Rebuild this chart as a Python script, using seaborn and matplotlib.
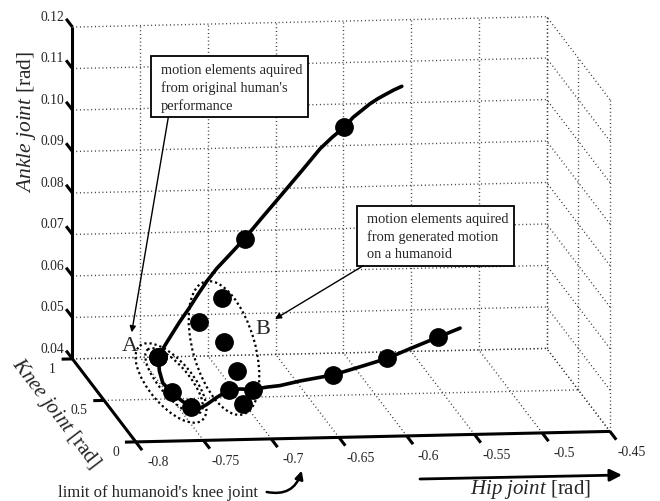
import numpy as np
import matplotlib
matplotlib.use("Agg")
import matplotlib.pyplot as plt
import seaborn as sns
from matplotlib.patches import Ellipse, Rectangle
from mpl_toolkits.mplot3d import proj3d

# joint angles [rad] along the original human's performance
human_hip = [-0.7577, -0.7521, -0.7462, -0.7396, -0.7322, -0.7249, -0.7175, -0.7095,
             -0.7014, -0.6940, -0.6870, -0.6727, -0.6579, -0.6432, -0.6285, -0.6189,
             -0.6091, -0.6020, -0.5946, -0.5880, -0.5814, -0.5743, -0.5682, -0.5618]
human_knee = [0.550, 0.565, 0.580, 0.595, 0.610, 0.625, 0.640, 0.655, 0.670, 0.685, 0.700, 0.715,
              0.730, 0.745, 0.760, 0.775, 0.790, 0.805, 0.820, 0.835, 0.850, 0.865, 0.880, 0.895]
human_ankle = [0.0491, 0.0516, 0.0540, 0.0567, 0.0595, 0.0625, 0.0654, 0.0681,
               0.0703, 0.0723, 0.0742, 0.0791, 0.0841, 0.0891, 0.0942, 0.0966,
               0.0987, 0.1007, 0.1021, 0.1033, 0.1042, 0.1050, 0.1056, 0.1061]
human_marks = [0, 10, 16]

# generated motion on the humanoid
humanoid_hip = [-0.7577, -0.7592, -0.7590, -0.7539, -0.7481, -0.7427, -0.7383, -0.7323,
                -0.7252, -0.7166, -0.7091, -0.6997, -0.6894, -0.6796, -0.6648, -0.6402,
                -0.6205, -0.6003, -0.5836, -0.5631, -0.5466]
humanoid_knee = [0.55, 0.50, 0.45, 0.42, 0.39, 0.36, 0.34, 0.33, 0.32, 0.31, 0.30,
                 0.30, 0.30, 0.30, 0.30, 0.30, 0.30, 0.30, 0.30, 0.30, 0.30]
humanoid_ankle = [0.0491, 0.0468, 0.0449, 0.0432, 0.0418, 0.0408, 0.0406, 0.0419,
                  0.0438, 0.0457, 0.0461, 0.0459, 0.0464, 0.0467, 0.0477, 0.0490,
                  0.0508, 0.0527, 0.0549, 0.0575, 0.0596]
humanoid_marks = [0, 3, 5, 9, 11, 15, 17, 19]

# extra elements of group B
extra_hip = [-0.7133, -0.7298, -0.7137, -0.7064, -0.7114]
extra_knee = [0.50, 0.50, 0.45, 0.40, 0.20]
extra_ankle = [0.0641, 0.0585, 0.0545, 0.0483, 0.0445]

hip_ticks = [-0.8, -0.75, -0.7, -0.65, -0.6, -0.55, -0.5, -0.45]
hip_labels = ["-0.8", "-0.75", "-0.7", "-0.65", "-0.6", "-0.55", "-0.5", "-0.45"]
knee_ticks = [0, 0.5, 1]
knee_labels = ["0", "0.5", "1"]
ankle_ticks = [0.04, 0.05, 0.06, 0.07, 0.08, 0.09, 0.10, 0.11, 0.12]
ankle_labels = ["0.04", "0.05", "0.06", "0.07", "0.08", "0.09", "0.10", "0.11", "0.12"]

sns.set_style("white")
plt.rcParams["font.family"] = ["Liberation Serif", "DejaVu Serif"]
plt.rcParams["mathtext.fontset"] = "custom"
plt.rcParams["mathtext.rm"] = "Liberation Serif"
plt.rcParams["mathtext.it"] = "Liberation Serif:italic"

W, H = 660, 502
fig = plt.figure(figsize=(W / 100, H / 100), dpi=100)
S = H
ax = fig.add_axes([0, 0, S / W, 1], projection="3d", proj_type="ortho",
                  computed_zorder=False)
x0, x1 = hip_ticks[0], hip_ticks[-1]
y0, y1 = knee_ticks[0], knee_ticks[-1]
z0, z1 = ankle_ticks[0], ankle_ticks[-1]
ax.set_xlim(x0, x1)
ax.set_ylim(y0, y1)
ax.set_zlim(z0, z1)
ax.view_init(elev=9.8, azim=-97.4)
aspect = (1.42, 1.46, 1.0)
ax.set_box_aspect(aspect)
ax.set_axis_off()


def to_px(x, y, z):
    xs, ys, _ = proj3d.proj_transform(np.atleast_1d(x), np.atleast_1d(y),
                                      np.atleast_1d(z), ax.get_proj())
    return ax.transData.transform(np.column_stack([xs, ys]))[0]


# fit the projected box into the same place as the original figure
fig.canvas.draw()
w_now = to_px(x1, y0, z0)[0] - to_px(x0, y1, z0)[0]
ax.set_box_aspect(aspect, zoom=537.5 / w_now)
fig.canvas.draw()
c = to_px((x0 + x1) / 2, (y0 + y1) / 2, (z0 + z1) / 2)
pos = ax.get_position(original=True)
ax.set_position([pos.x0 + (341.2 - c[0]) / W, pos.y0 + (H - 230.25 - c[1]) / H,
                 pos.width, pos.height])
fig.canvas.draw()

grid_kw = dict(color="0.2", lw=1.0, ls=(0, (0.7, 2.0)), zorder=1, clip_on=False)
for h in hip_ticks:
    ax.plot([h, h], [y1, y1], [z0, z1], **grid_kw)
    ax.plot([h, h], [y0, y1], [z0, z0], **grid_kw)
for a in ankle_ticks:
    ax.plot([x0, x1], [y1, y1], [a, a], **grid_kw)
    ax.plot([x1, x1], [y0, y1], [a, a], **grid_kw)
for k in knee_ticks:
    ax.plot([x1, x1], [k, k], [z0, z1], **grid_kw)
    ax.plot([x0, x1], [k, k], [z0, z0], **grid_kw)

axis_kw = dict(color="black", lw=2.2, solid_capstyle="butt", zorder=2, clip_on=False)
ax.plot([x0, x1], [y0, y0], [z0, z0], **axis_kw)
ax.plot([x0, x0], [y0, y1], [z0, z0], **axis_kw)
ax.plot([x0, x0], [y1, y1], [z0, z1], **axis_kw)
for h in hip_ticks:
    ax.plot([h, h], [y0, y0 - 0.1], [z0, z0], **axis_kw)
for k in knee_ticks:
    ax.plot([x0, x0 - 0.008], [k, k], [z0, z0], **axis_kw)
for a in ankle_ticks:
    ax.plot([x0, x0], [y1, y1 + 0.1], [a, a], **axis_kw)

line_kw = dict(color="black", lw=2.6, solid_joinstyle="round", zorder=3, clip_on=False)
ax.plot(human_hip, human_knee, human_ankle, **line_kw)
ax.plot(humanoid_hip, humanoid_knee, humanoid_ankle, **line_kw)

mark_kw = dict(ls="none", marker="o", ms=12.5, color="black", zorder=4, clip_on=False)
ax.plot([human_hip[i] for i in human_marks], [human_knee[i] for i in human_marks],
        [human_ankle[i] for i in human_marks], **mark_kw)
ax.plot([humanoid_hip[i] for i in humanoid_marks], [humanoid_knee[i] for i in humanoid_marks],
        [humanoid_ankle[i] for i in humanoid_marks], **mark_kw)
ax.plot(extra_hip, extra_knee, extra_ankle, **mark_kw)

# annotation layer in pixel units (y down)
ov = fig.add_axes([0, 0, 1, 1], zorder=5)
ov.set_xlim(0, W)
ov.set_ylim(H, 0)
ov.axis("off")


def ov_pt(x, y, z):
    p = to_px(x, y, z)
    return p[0], H - p[1]


tick_fs = 9.8
for h, lab in zip(hip_ticks, hip_labels):
    px, py = ov_pt(h + 0.0069, y0 - 0.2, z0 - 0.0008)
    ov.text(px, py, lab, ha="center", va="center", fontsize=tick_fs)
for k, lab in zip(knee_ticks, knee_labels):
    px, py = ov_pt(x0 - 0.0125, k, z0 - 0.0022)
    ov.text(px, py, lab, ha="right", va="center", fontsize=tick_fs)
for a, lab in zip(ankle_ticks, ankle_labels):
    px, py = ov_pt(x0, y1 + 0.13, a)
    ov.text(px, py, lab, ha="right", va="center", fontsize=tick_fs)

dot_kw = dict(fill=False, ec="black", lw=1.6, ls=(0, (1, 1.3)))
ov.add_patch(Ellipse((171, 384), 44, 97, angle=-40, **dot_kw))
ov.add_patch(Ellipse((174, 382), 30, 82, angle=-40, **dot_kw))
ov.add_patch(Ellipse((224, 349), 62, 138, angle=-16, **dot_kw))

ov.text(130, 347, "A", fontsize=16, ha="center", va="center")
ov.text(263, 330, "B", fontsize=16, ha="center", va="center")

box_fs = 10.4
ov.add_patch(Rectangle((151, 57.3), 157.3, 61, fc="white", ec="black", lw=1.3))
for i, s in enumerate(["motion elements aquired", "from original human's", "performance"]):
    ov.text(161, 70.7 + 17.7 * i, s, fontsize=box_fs, ha="left", va="center")
ov.add_patch(Rectangle((356.7, 206.7), 157.6, 60, fc="white", ec="black", lw=1.3))
for i, s in enumerate(["motion elements aquired", "from generated motion", "on a humanoid"]):
    ov.text(366.7, 220 + 17.3 * i, s, fontsize=box_fs, ha="left", va="center")

thin = dict(arrowstyle="-|>", color="black", lw=1.0, mutation_scale=9, shrinkA=0, shrinkB=0)
ov.annotate("", xy=(131.7, 333.3), xytext=(168.3, 118.3), arrowprops=thin)
ov.annotate("", xy=(275, 320), xytext=(363.3, 266.7), arrowprops=thin)

ov.annotate("", xy=(622, 476), xytext=(420, 480),
            arrowprops=dict(arrowstyle="-|>", color="black", lw=2.0, mutation_scale=18,
                            shrinkA=0, shrinkB=0))
ov.annotate("", xy=(301.7, 471.7), xytext=(266.7, 493),
            arrowprops=dict(arrowstyle="-|>", color="black", lw=1.8, mutation_scale=12,
                            shrinkA=0, shrinkB=0, connectionstyle="arc3,rad=0.45"))

ov.text(531, 490, r"$\mathit{Hip\ joint}$ [rad]", fontsize=15, ha="center", va="center")
ov.text(26.7, 121.7, r"$\mathit{Ankle\ joint}$ [rad]", fontsize=15.5, rotation=90,
        ha="center", va="center", rotation_mode="anchor")
ov.text(55, 414, r"$\mathit{Knee\ joint}$ [rad]", fontsize=15, rotation=-52.6,
        ha="center", va="center", rotation_mode="anchor")
ov.text(157.5, 493, "limit of humanoid's knee joint", fontsize=12, ha="center", va="center")

fig.savefig("out.png", dpi=100)
